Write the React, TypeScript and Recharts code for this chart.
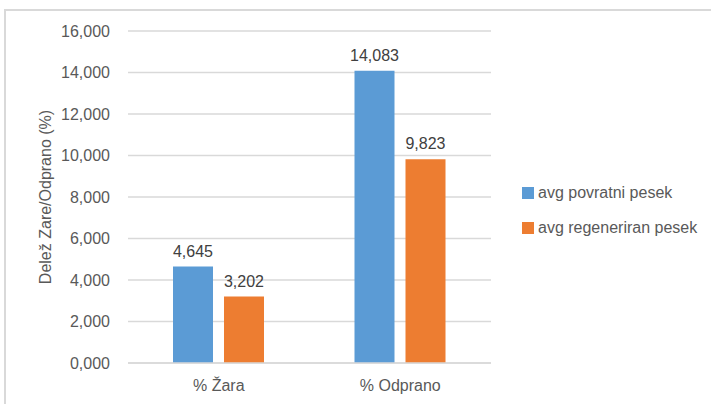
import React from "react";
import { BarChart, Bar, XAxis, YAxis, CartesianGrid, LabelList } from "recharts";

const categories = ["% Žara", "% Odprano"];
const povratni = [4.645, 14.083];
const regeneriran = [3.202, 9.823];
const yTicks = [0, 2, 4, 6, 8, 10, 12, 14, 16];

const seriesNames = ["avg povratni pesek", "avg regeneriran pesek"];
const colors = ["#5B9BD5", "#ED7D31"];

const FONT = "'Liberation Sans', Arial, sans-serif";
const FS = 16;

// Slovenian style: decimal comma, three places
const fmt = (v: number) => v.toFixed(3).replace(".", ",");

const data = categories.map((c, i) => ({
  name: c,
  povratni: povratni[i],
  regeneriran: regeneriran[i],
}));

function LegendBox() {
  return (
    <div style={{ position: "absolute", left: 522, top: 183, fontFamily: FONT, fontSize: FS, color: "#595959" }}>
      {seriesNames.map((n, i) => (
        <div key={n} style={{ display: "flex", alignItems: "center", height: 20, marginBottom: 15 }}>
          <span style={{ display: "inline-block", width: 12, height: 12, background: colors[i], marginRight: 4 }} />
          <span>{n}</span>
        </div>
      ))}
    </div>
  );
}

export default function App() {
  return (
    <div style={{ position: "relative", width: 711, height: 404, overflow: "hidden", background: "#fff" }}>
      <style>{"body{margin:0}"}</style>
      <div
        style={{
          position: "absolute",
          left: 4,
          top: 9,
          width: 740,
          height: 440,
          border: "2px solid #d9d9d9",
        }}
      />
      <BarChart
        width={711}
        height={404}
        data={data}
        margin={{ top: 31, right: 220, left: 68, bottom: 11 }}
        barCategoryGap={45}
        barGap={11}
        style={{ position: "absolute", left: 0, top: 0 }}
      >
        <CartesianGrid vertical={false} stroke="#d9d9d9" strokeWidth={1.5} />
        <XAxis
          dataKey="name"
          height={30}
          tickLine={false}
          axisLine={{ stroke: "#d9d9d9", strokeWidth: 1.5 }}
          tickSize={0}
          tickMargin={17}
          tick={{ fontSize: FS, fill: "#595959", fontFamily: FONT }}
        />
        <YAxis
          domain={[0, 16]}
          ticks={yTicks}
          tickFormatter={fmt}
          width={60}
          axisLine={false}
          tickLine={false}
          tickSize={0}
          tickMargin={18}
          tick={{ fontSize: FS, fill: "#595959", fontFamily: FONT }}
          label={{
            value: "Delež Zare/Odprano (%)",
            angle: -90,
            position: "left",
            offset: 23,
            style: { fontSize: FS, fill: "#595959", fontFamily: FONT, textAnchor: "middle" },
          }}
        />
        <Bar dataKey="povratni" name={seriesNames[0]} fill={colors[0]} barSize={40} isAnimationActive={false}>
          <LabelList dataKey="povratni" position="top" offset={10} formatter={fmt}
            style={{ fontSize: FS, fill: "#404040", fontFamily: FONT }} />
        </Bar>
        <Bar dataKey="regeneriran" name={seriesNames[1]} fill={colors[1]} barSize={40} isAnimationActive={false}>
          <LabelList dataKey="regeneriran" position="top" offset={10} formatter={fmt}
            style={{ fontSize: FS, fill: "#404040", fontFamily: FONT }} />
        </Bar>
      </BarChart>
      <LegendBox />
    </div>
  );
}
